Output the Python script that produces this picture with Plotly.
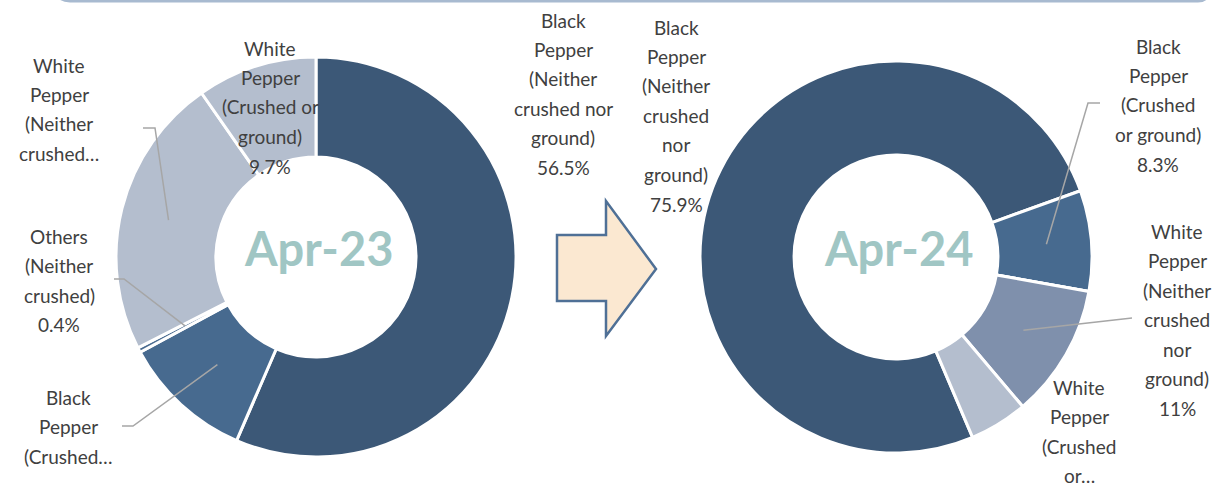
import math
import plotly.graph_objects as go

#====================================================
# DATA
#====================================================

categories = [
    "Black Pepper (Neither crushed nor ground)",
    "Black Pepper (Crushed or ground)",
    "Others (Neither crushed)",
    "White Pepper (Neither crushed nor ground)",
    "White Pepper (Crushed or ground)",
]

apr23_values = [56.5, 10.6, 0.4, 22.8, 9.7]
apr24_values = [75.9, 8.3, 0.0, 11.0, 4.8]

# label text as shown on the chart (line broken like the original)
apr23_labels = [
    "Black\nPepper\n(Neither\ncrushed nor\nground)\n56.5%",
    "Black\nPepper\n(Crushed…",
    "Others\n(Neither\ncrushed)\n0.4%",
    "White\nPepper\n(Neither\ncrushed…",
    "White\nPepper\n(Crushed or\nground)\n9.7%",
]
apr24_labels = [
    "Black\nPepper\n(Neither\ncrushed\nnor\nground)\n75.9%",
    "Black\nPepper\n(Crushed\nor ground)\n8.3%",
    "",
    "White\nPepper\n(Neither\ncrushed\nnor\nground)\n11%",
    "White\nPepper\n(Crushed\nor…",
]

apr23_colors = ["#3C5877", "#476A8F", "#4A6B90", "#B4BECE", "#B4BECE"]
apr24_colors = ["#3C5877", "#476A8F", "#4A6B90", "#7F90AC", "#B4BECE"]

W, H = 1221, 486

#====================================================
# HELPERS
#====================================================

def px(x):
    return x / W


def py(y):
    return 1 - y / H


def mid_angle(values, i, rotation):
    total = sum(values)
    start = rotation + 360 * sum(values[:i]) / total
    return start + 180 * values[i] / total


def slice_point(center, radius, angle):
    a = math.radians(angle)
    return center[0] + radius * math.sin(a), center[1] - radius * math.cos(a)


#====================================================
# FIGURE
#====================================================

c23, r23, rot23 = (316, 257), 200, 0
c24, r24, rot24 = (896, 257), 196, 157

fig = go.Figure()

fig.add_trace(go.Pie(
    labels=categories,
    values=apr23_values,
    hole=0.5,
    sort=False,
    direction="clockwise",
    rotation=rot23,
    marker=dict(colors=apr23_colors, line=dict(color="white", width=3)),
    textinfo="none",
    hoverinfo="label+percent",
    domain=dict(x=[px(c23[0] - r23), px(c23[0] + r23)],
                y=[py(c23[1] + r23), py(c23[1] - r23)]),
    showlegend=False,
))

fig.add_trace(go.Pie(
    labels=categories,
    values=apr24_values,
    hole=0.52,
    sort=False,
    direction="clockwise",
    rotation=rot24,
    marker=dict(colors=apr24_colors, line=dict(color="white", width=3)),
    textinfo="none",
    hoverinfo="label+percent",
    domain=dict(x=[px(c24[0] - r24), px(c24[0] + r24)],
                y=[py(c24[1] + r24), py(c24[1] - r24)]),
    showlegend=False,
))

# label block positions (first line centre), pixels
apr23_pos = [(563, 20), (68, 397), (59, 236), (59, 65), (270, 48)]
apr24_pos = [(676, 27), (1158, 46), None, (1177, 231), (1079, 387)]

# leader lines: label side point, bend point, radius fraction on slice
apr23_leaders = {
    1: ((122, 426), (133, 426), 0.73),
    2: ((114, 279), (124, 279), 0.74),
    3: ((143, 128), (155, 128), 0.76),
}
apr24_leaders = {
    1: ((1100, 103), (1088, 103), 0.77),
    3: ((1132, 318), (1132, 318), 0.75),
}

annotations = []
shapes = []

LINE_H = 29.5
font = dict(family="Lato", size=19, color="#404040")

for labels, pos in [(apr23_labels, apr23_pos), (apr24_labels, apr24_pos)]:
    for text, p in zip(labels, pos):
        if not text or p is None:
            continue
        for k, line in enumerate(text.split("\n")):
            annotations.append(dict(
                x=px(p[0]), y=py(p[1] + k * LINE_H),
                xref="paper", yref="paper",
                text=line, showarrow=False,
                font=font, xanchor="center", yanchor="middle",
            ))

for values, center, radius, rot, leaders in [
    (apr23_values, c23, r23, rot23, apr23_leaders),
    (apr24_values, c24, r24, rot24, apr24_leaders),
]:
    for i, (p0, p1, frac) in leaders.items():
        ang = mid_angle(values, i, rot)
        ex, ey = slice_point(center, radius * frac, ang)
        path = f"M {px(p0[0])},{py(p0[1])} L {px(p1[0])},{py(p1[1])} L {px(ex)},{py(ey)}"
        shapes.append(dict(
            type="path", path=path, xref="paper", yref="paper",
            line=dict(color="#A6A6A6", width=1.5),
        ))

# centre titles
for title, center in [("Apr-23", c23), ("Apr-24", c24)]:
    annotations.append(dict(
        x=px(center[0] + 2), y=py(center[1] - 9),
        xref="paper", yref="paper",
        text=f"<b>{title}</b>", showarrow=False,
        font=dict(family="Lato", size=47, color="#A0C6C4"),
        xanchor="center", yanchor="middle",
    ))

# block arrow between the two charts
arrow = [(557, 235), (606, 235), (606, 201), (656, 269),
         (606, 336), (606, 301), (557, 301)]
arrow_path = "M " + " L ".join(f"{px(x)},{py(y)}" for x, y in arrow) + " Z"
shapes.append(dict(
    type="path", path=arrow_path, xref="paper", yref="paper",
    fillcolor="#FBE8D1", line=dict(color="#4F7096", width=2.5),
    layer="below",
))

# bottom edge of the rounded box above
box_path = (f"M {px(56)},{py(-10)} Q {px(58)},{py(1)} {px(70)},{py(1)} "
            f"L {px(1198)},{py(1)} Q {px(1208)},{py(1)} {px(1210)},{py(-10)}")
shapes.append(dict(
    type="path", path=box_path, xref="paper", yref="paper",
    line=dict(color="#A8BAD0", width=3),
))

fig.update_layout(
    width=W,
    height=H,
    margin=dict(l=0, r=0, t=0, b=0),
    paper_bgcolor="white",
    plot_bgcolor="white",
    annotations=annotations,
    shapes=shapes,
)

fig.write_html(
    "out.html",
    config={"displayModeBar": False},
    post_script="document.body.style.margin='0';document.body.style.overflow='hidden';",
)
